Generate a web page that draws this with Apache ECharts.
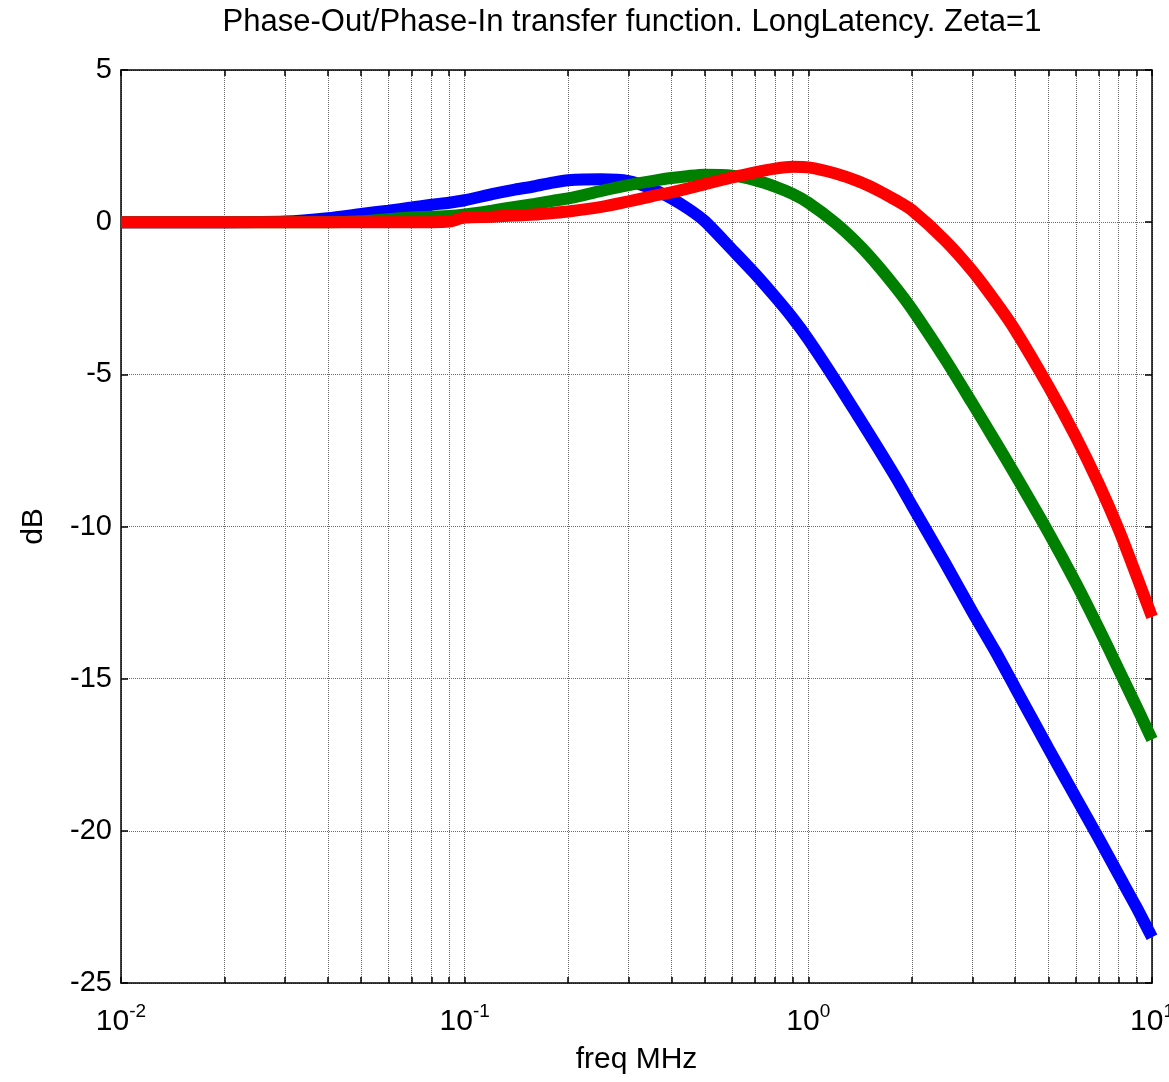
<!DOCTYPE html>
<html>
<head>
<meta charset="utf-8">
<script src="https://cdn.jsdelivr.net/npm/echarts@6/dist/echarts.min.js"></script>
<style>
  html, body { margin: 0; padding: 0; background: #fff; }
  #chart { width: 1169px; height: 1082px; }
</style>
</head>
<body>
<div id="chart"></div>
<script>
// frequencies (MHz)
var freqs = [0.01, 0.02, 0.03, 0.04, 0.05, 0.06, 0.07, 0.08, 0.09, 0.1,
  0.12, 0.14, 0.16, 0.18, 0.2, 0.25, 0.3, 0.35, 0.4, 0.45, 0.5,
  0.6, 0.7, 0.8, 0.9, 1.0, 1.2, 1.4, 1.6, 1.8, 2, 2.5, 3, 3.5, 4,
  5, 6, 7, 8, 9, 10]

// dB values for the three curves
var blueDb = [0, 0, 0.02, 0.13, 0.27, 0.38, 0.48, 0.57, 0.64, 0.72,
  0.92, 1.07, 1.18, 1.3, 1.38, 1.41, 1.35, 1.1, 0.78, 0.42, 0.03,
  -0.9, -1.7, -2.45, -3.15, -3.85, -5.2, -6.4, -7.45, -8.4, -9.3, -11.2, -12.8, -14.1, -15.3,
  -17.3, -18.9, -20.25, -21.45, -22.5, -23.5]
var greenDb = [0, 0, 0, 0, 0.03, 0.1, 0.15, 0.18, 0.2, 0.25,
  0.38, 0.5, 0.6, 0.7, 0.78, 1.03, 1.22, 1.35, 1.45, 1.52, 1.56,
  1.53, 1.38, 1.17, 0.93, 0.64, -0.03, -0.73, -1.45, -2.16, -2.85, -4.5, -5.95, -7.2, -8.3,
  -10.2, -11.85, -13.35, -14.7, -15.9, -17.0]
var redDb = [0, 0, 0, 0, 0, 0, 0, 0, 0.02, 0.15,
  0.18, 0.22, 0.25, 0.3, 0.35, 0.5, 0.68, 0.85, 0.98, 1.12, 1.25,
  1.47, 1.64, 1.76, 1.82, 1.8, 1.6, 1.34, 1.04, 0.72, 0.4, -0.6, -1.6, -2.6, -3.55,
  -5.4, -7.05, -8.6, -10.1, -11.6, -12.97]

// tick positions
var xTicks = [0.01, 0.02, 0.03, 0.04, 0.05, 0.06, 0.07, 0.08, 0.09,
  0.1, 0.2, 0.3, 0.4, 0.5, 0.6, 0.7, 0.8, 0.9,
  1, 2, 3, 4, 5, 6, 7, 8, 9, 10]
var xLabels = [0.01, 0.1, 1, 10]
var xExponents = ['-2', '-1', '0', '1']

var fontFamily = '"Liberation Sans", Arial, sans-serif'

function pairs (ys) {
  return freqs.map(function (f, i) { return [f, ys[i]] })
}

var chart = echarts.init(document.getElementById('chart'))

var gridLine = {
  show: true,
  lineStyle: { color: '#6a6a6a', type: 'dotted', width: 1 }
}
var boxLine = { show: true, onZero: false, lineStyle: { color: '#000', width: 1.5 } }

var option = {
  animation: false,
  backgroundColor: '#fff',
  title: {
    text: 'Phase-Out/Phase-In transfer function. LongLatency. Zeta=1',
    left: 627,
    top: 2,
    textAlign: 'center',
    textStyle: {
      fontFamily: fontFamily,
      fontSize: 31,
      fontWeight: 'normal',
      color: '#000'
    }
  },
  grid: {
    left: 121,
    top: 70,
    width: 1031,
    height: 913,
    containLabel: false,
    outerBoundsMode: 'none'
  },
  xAxis: [{
    type: 'log',
    logBase: 10,
    min: 0.01,
    max: 10,
    name: 'freq MHz',
    nameLocation: 'middle',
    nameGap: 62,
    nameTextStyle: { fontFamily: fontFamily, fontSize: 30, color: '#000' },
    axisLine: boxLine,
    axisTick: { show: true, inside: true, length: 6, customValues: xTicks, lineStyle: { color: '#000', width: 1.5 } },
    axisLabel: {
      show: true,
      customValues: xLabels,
      margin: 19,
      formatter: function (v) {
        var i = xLabels.indexOf(v)
        if (i < 0) i = Math.round(Math.log10(v)) + 2
        return '{b|10}{s|' + xExponents[i] + '}'
      },
      rich: {
        b: { fontFamily: fontFamily, fontSize: 30, lineHeight: 30, color: '#000', padding: [9, 0, 0, 0] },
        s: { fontFamily: fontFamily, fontSize: 19, lineHeight: 20, color: '#000', verticalAlign: 'top' }
      }
    },
    splitLine: gridLine
  }, {
    type: 'log',
    logBase: 10,
    min: 0.01,
    max: 10,
    position: 'top',
    axisLine: boxLine,
    axisTick: { show: true, inside: true, length: 6, customValues: xTicks, lineStyle: { color: '#000', width: 1.5 } },
    axisLabel: { show: false },
    splitLine: { show: false }
  }],
  yAxis: [{
    type: 'value',
    min: -25,
    max: 5,
    interval: 5,
    name: 'dB',
    nameLocation: 'middle',
    nameGap: 72,
    nameTextStyle: { fontFamily: fontFamily, fontSize: 30, color: '#000' },
    axisLine: boxLine,
    axisTick: { show: true, inside: true, length: 7, lineStyle: { color: '#000', width: 1.5 } },
    axisLabel: {
      fontFamily: fontFamily,
      fontSize: 29,
      color: '#000',
      margin: 9,
      padding: [0, 0, 8, 0]
    },
    splitLine: gridLine
  }, {
    type: 'value',
    min: -25,
    max: 5,
    interval: 5,
    position: 'right',
    axisLine: boxLine,
    axisTick: { show: true, inside: true, length: 7, lineStyle: { color: '#000', width: 1.5 } },
    axisLabel: { show: false },
    splitLine: { show: false }
  }],
  series: [{
    type: 'line',
    data: pairs(blueDb),
    symbol: 'none',
    smooth: 0.25,
    lineStyle: { color: '#0000ff', width: 12 }
  }, {
    type: 'line',
    data: pairs(greenDb),
    symbol: 'none',
    smooth: 0.25,
    lineStyle: { color: '#008000', width: 12 }
  }, {
    type: 'line',
    data: pairs(redDb),
    symbol: 'none',
    smooth: 0.25,
    lineStyle: { color: '#ff0000', width: 12 }
  }]
}

chart.setOption(option)
</script>
</body>
</html>
